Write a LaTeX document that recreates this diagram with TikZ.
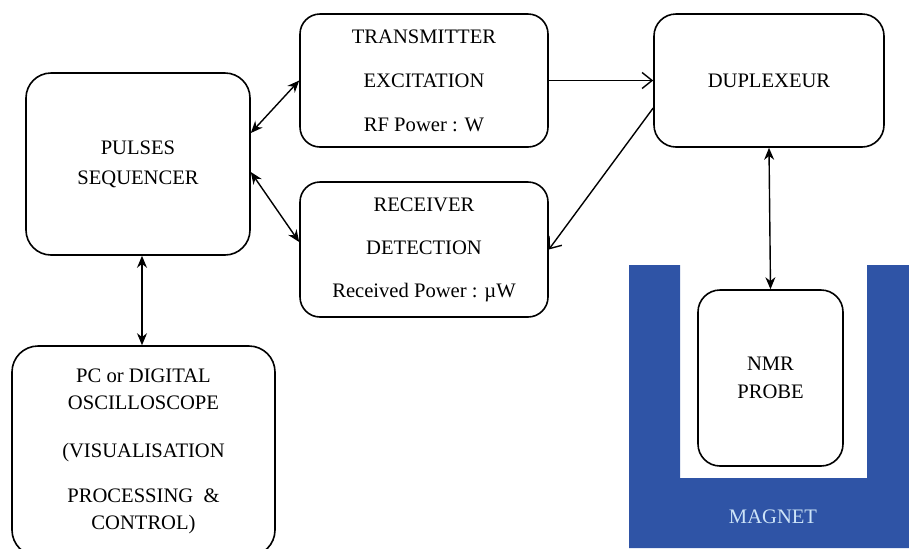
\documentclass[tikz,border=0pt]{standalone}
\usepackage{fontspec}
\setmainfont{Liberation Serif}
\usetikzlibrary{arrows.meta}
\definecolor{magnetblue}{RGB}{47,84,166}
\definecolor{magnettext}{RGB}{205,228,248}

\begin{document}
\begin{tikzpicture}[x=0.5pt,y=-0.5pt,
    block/.style={rectangle, rounded corners=#1, draw, line width=0.8pt, align=center,
      font=\rmfamily\fontsize{10.3}{13.5}\selectfont, anchor=center, inner sep=0pt},
    link/.style={line width=0.7pt},
    both/.style={link, {Stealth[length=6pt,width=5pt]}-{Stealth[length=6pt,width=5pt]}},
    open/.style={link, -{Straight Barb[length=5pt,width=8pt]}}]

      \useasboundingbox (0,0) rectangle (909,548);

      % magnet drawn as a U shape
      \fill[magnetblue] (629,265) -- (680,265) -- (680,478) -- (867,478) -- (867,265)
        -- (909,265) -- (909,548) -- (629,548) -- cycle;
      \node[text=magnettext, font=\rmfamily\fontsize{10.3}{13.5}\selectfont] (magnet) at (773,517) {MAGNET};

      \node[block=12.5pt, minimum width=112pt, minimum height=91pt] (seq) at (138,164)
        {PULSES\\[1.5pt]SEQUENCER};
      \node[block=10pt, minimum width=124pt, minimum height=66.5pt] (trans) at (424,80.5)
        {TRANSMITTER\\[8.5pt]EXCITATION\\[8.5pt]RF Power : W};
      \node[block=10pt, minimum width=124pt, minimum height=67.5pt] (rec) at (424,249.5)
        {RECEIVER\\[8pt]DETECTION\\[8pt]Received Power : µW};
      \node[block=11pt, minimum width=115pt, minimum height=66.5pt] (dup) at (769,80.5)
        {DUPLEXEUR};
      \node[block=11pt, fill=white, minimum width=72.5pt, minimum height=88pt] (probe) at (770.5,378)
        {NMR\\[0.5pt]PROBE};
      \node[block=13pt, minimum width=131.5pt, minimum height=105pt] (pc) at (143.5,451)
        {PC or DIGITAL\\OSCILLOSCOPE\\[10.5pt](VISUALISATION\\[9pt]PROCESSING \ \&\\CONTROL)};

      \draw [both] ([yshift=15.5pt]seq.east) -- (trans.west);
      \draw [both] ([yshift=-4pt]seq.east) -- ([yshift=3.75pt]rec.west);
      \draw [open] (trans.east) -- (dup.west);
      \draw [open] ([yshift=-13.75pt]dup.west) -- (rec.east);
      \draw [both] (dup.south) -- (probe.north);
      \draw [both] ([xshift=2pt]seq.south) -- ([xshift=-0.75pt]pc.north);

    \end{tikzpicture}
\end{document}
